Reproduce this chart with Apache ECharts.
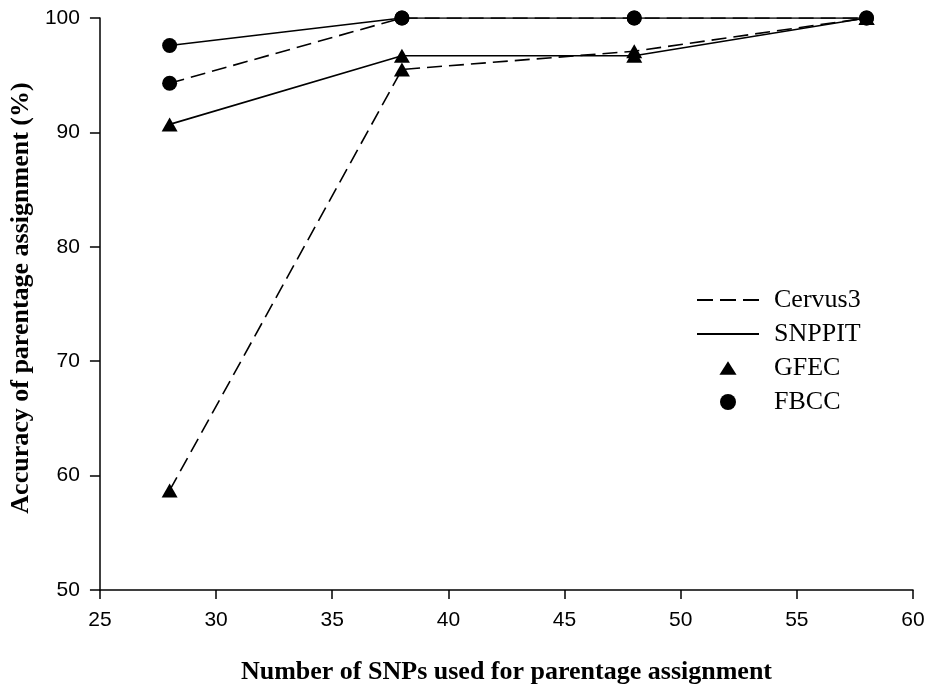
<!DOCTYPE html>
<html>
<head>
<meta charset="utf-8">
<script src="https://cdn.jsdelivr.net/npm/echarts@6/dist/echarts.min.js"></script>
<style>html,body{margin:0;padding:0;background:#fff}#c{width:929px;height:690px}</style>
</head>
<body>
<div id="c"></div>
<script>
var snps = [28, 38, 48, 58];
var cervusGFEC = [58.7, 95.5, 97.1, 100];
var cervusFBCC = [94.3, 100, 100, 100];
var snppitGFEC = [90.7, 96.7, 96.7, 100];
var snppitFBCC = [97.6, 100, 100, 100];
var xTicks = [25, 30, 35, 40, 45, 50, 55, 60];
var yTicks = [50, 60, 70, 80, 90, 100];
var legendNames = ['Cervus3', 'SNPPIT', 'GFEC', 'FBCC'];

function pairs(ys){ return snps.map(function(x,i){ return [x, ys[i]]; }); }

var dash = [15, 7];
var chart = echarts.init(document.getElementById('c'));
function lineSeries(name, ys, dashed, symbol, size){
  return {
    name: name, type: 'line', data: pairs(ys),
    symbol: symbol, symbolSize: size, showSymbol: true,
    lineStyle: {color: '#000', width: 1.6, type: dashed ? dash : 'solid'},
    itemStyle: {color: '#000'},
    emphasis: {disabled: true}, animation: false, z: dashed ? 3 : 2
  };
}
var icons = [
  'path://M0,0h16v2h-16z M23,0h16v2h-16z M46,0h16v2h-16z',
  'path://M0,0h62v2h-62z',
  'path://M0,-1L0,-1 M7.5,0L15,12L0,12Z M0,13L0,13',
  'path://M0,8A8,8,0,1,1,16,8A8,8,0,1,1,0,8Z'
];
function dummy(name){
  return {name: name, type: 'line', data: [], symbol: 'none',
    lineStyle: {color: '#000', width: 0}, itemStyle: {color: '#000', opacity: 1}};
}
chart.setOption({
  animation: false,
  grid: {left: 98, right: 16, top: 18, bottom: 98},
  xAxis: {
    type: 'value', min: xTicks[0], max: xTicks[xTicks.length-1], interval: 5,
    name: 'Number of SNPs used for parentage assignment',
    nameLocation: 'middle', nameGap: 69,
    nameTextStyle: {fontFamily: 'Liberation Serif', fontWeight: 'bold', fontSize: 26, color: '#000'},
    axisLine: {onZero: false, lineStyle: {color: '#000', width: 1.5}},
    axisTick: {length: 9, lineStyle: {color: '#000', width: 1.5}},
    axisLabel: {fontFamily: 'Liberation Sans', fontSize: 21, color: '#000', margin: 20},
    splitLine: {show: false}
  },
  yAxis: {
    type: 'value', min: yTicks[0], max: yTicks[yTicks.length-1], interval: 10,
    name: 'Accuracy of parentage assignment (%)',
    nameLocation: 'middle', nameGap: 63,
    nameTextStyle: {fontFamily: 'Liberation Serif', fontWeight: 'bold', fontSize: 26, color: '#000', padding: [0, 0, 0, 12]},
    axisLine: {lineStyle: {color: '#000', width: 1.5}},
    axisTick: {length: 10, lineStyle: {color: '#000', width: 1.5}},
    axisLabel: {fontFamily: 'Liberation Sans', fontSize: 21, color: '#000', margin: 20},
    splitLine: {show: false}
  },
  legend: {
    left: 692, top: 282, orient: 'vertical', itemGap: 8,
    itemWidth: 62, itemHeight: 16,
    textStyle: {fontFamily: 'Liberation Serif', fontSize: 26, color: '#000', padding: [0,0,0,10]},
    data: legendNames.map(function(n, i){ return {name: n, icon: icons[i], itemStyle: {color: '#000', opacity: 1}}; }),
    selectedMode: false
  },
  series: [
    lineSeries('cervus-gfec', cervusGFEC, true, 'triangle', [16, 14]),
    lineSeries('cervus-fbcc', cervusFBCC, true, 'circle', 15),
    lineSeries('snppit-gfec', snppitGFEC, false, 'triangle', [16, 14]),
    lineSeries('snppit-fbcc', snppitFBCC, false, 'circle', 15)
  ].concat(legendNames.map(dummy))
});
</script>
</body>
</html>
